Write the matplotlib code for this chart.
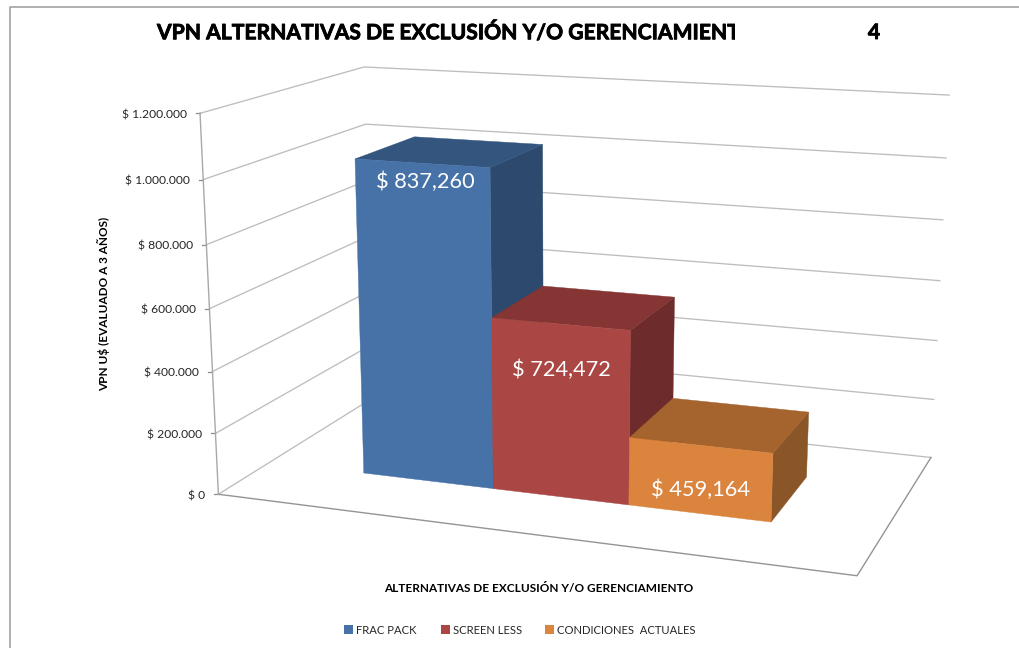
import numpy as np
import matplotlib
matplotlib.use("Agg")
import matplotlib.pyplot as plt
import matplotlib.patheffects as pe
from matplotlib.patches import Polygon, Rectangle
from matplotlib.transforms import Bbox

plt.rcParams['font.family'] = ['Lato', 'DejaVu Sans']

series_names = ["FRAC PACK", "SCREEN LESS", "CONDICIONES  ACTUALES"]
bar_values = [1026000, 557000, 218000]
bar_labels = ["$ 837,260", "$ 724,472", "$ 459,164"]
axis_ticks = [0, 200000, 400000, 600000, 800000, 1000000, 1200000]
tick_labels = ["$ 0", "$ 200.000", "$ 400.000", "$ 600.000", "$ 800.000", "$ 1.000.000", "$ 1.200.000"]

front_colors = ["#4672A8", "#AA4643", "#DB843D"]
top_colors = ["#34557E", "#853533", "#A5632E"]
side_colors = ["#2D4A6E", "#6D2B2B", "#8A5527"]

AXIS_MAX = 1200000
BAR_START = 1/6
BAR_WIDTH = 2/9
DEPTH_FRONT = 0.305
DEPTH_BACK = 0.702
LABEL_DROP = [19, 46, 45]
LABEL_SHIFT = [4, 1, 0]

# plot box corners on the page: (x, value share, depth, px, py)
box = [
    (0, 0, 0, 218, 494), (0, 1, 0, 200, 113), (0, 1, 1, 364, 67), (0, 0, 1, 373, 398),
    (1, 0, 0, 857, 576), (1, 0, 1, 931, 457), (1, 1, 1, 949, 95),
    (0, .5, 0, 210, 309), (1, .5, 1, 940, 281),
]
rows = []
for x, v, d, u, w in box:
    rows.append([x, v, d, 1, 0, 0, 0, 0, -u*x, -u*v, -u*d, -u])
    rows.append([0, 0, 0, 0, x, v, d, 1, -w*x, -w*v, -w*d, -w])
H = np.linalg.svd(np.array(rows, float))[2][-1].reshape(3, 4)


def project(x, value, d):
    p = H @ np.array([x, value / AXIS_MAX, d, 1.0])
    return p[0] / p[2], p[1] / p[2]


fig = plt.figure(figsize=(10.2, 6.48), dpi=100)
ax = fig.add_axes([0, 0, 1, 1])
ax.set_xlim(0, 1020)
ax.set_ylim(648, 0)
ax.axis("off")

# chart frame, only left and top show
ax.plot([1020, 10.5, 10.5], [6.5, 6.5, 648], color="#9A9A9A", lw=1.1)

# walls
for t, label in zip(axis_ticks, tick_labels):
    a = project(0, t, 0)
    b = project(0, t, 1)
    c = project(1, t, 1)
    ax.plot([a[0], b[0], c[0]], [a[1], b[1], c[1]], color="#BDBDBD", lw=0.95, zorder=1)
    ax.plot([a[0] - 4, a[0]], [a[1], a[1]], color="#8C8C8C", lw=0.9, zorder=1)
    ax.text(a[0] - 13.5, a[1] + 1.5, label, ha="right", va="center", fontsize=8.7, color="#262626")

# floor edges and the value axis
corners = [project(0, 0, 0), project(1, 0, 0), project(1, 0, 1)]
ax.plot([p[0] for p in corners], [p[1] for p in corners], color="#949494", lw=1.0, zorder=1)
top = project(0, AXIS_MAX, 0)
bottom = project(0, 0, 0)
ax.plot([top[0], bottom[0]], [top[1], bottom[1]], color="#A8A8A8", lw=1.0, zorder=1)

# bars, left to right so the nearer faces paint over
for i, value in enumerate(bar_values):
    x0 = BAR_START + i * BAR_WIDTH
    x1 = x0 + BAR_WIDTH
    side = [project(x1, 0, DEPTH_FRONT), project(x1, 0, DEPTH_BACK),
            project(x1, value, DEPTH_BACK), project(x1, value, DEPTH_FRONT)]
    roof = [project(x0, value, DEPTH_FRONT), project(x1, value, DEPTH_FRONT),
            project(x1, value, DEPTH_BACK), project(x0, value, DEPTH_BACK)]
    front = [project(x0, 0, DEPTH_FRONT), project(x1, 0, DEPTH_FRONT),
             project(x1, value, DEPTH_FRONT), project(x0, value, DEPTH_FRONT)]
    ax.add_patch(Polygon(side, facecolor=side_colors[i], edgecolor=side_colors[i], lw=0.3, zorder=2 + i))
    ax.add_patch(Polygon(roof, facecolor=top_colors[i], edgecolor=top_colors[i], lw=0.3, zorder=2 + i))
    ax.add_patch(Polygon(front, facecolor=front_colors[i], edgecolor=front_colors[i], lw=0.3, zorder=2 + i))
    lx, ly = project(x0 + BAR_WIDTH / 2, value, DEPTH_FRONT)
    ax.text(lx + LABEL_SHIFT[i], ly + LABEL_DROP[i], bar_labels[i], ha="center", va="center",
            fontsize=15.7, color="white", zorder=6)

# title, the last letter is cut off in the original
heavy = [pe.withStroke(linewidth=0.6, foreground="black")]
title = ax.text(157, 33, "VPN ALTERNATIVAS DE EXCLUSIÓN Y/O GERENCIAMIENTO", ha="left", va="center",
                fontsize=15.2, fontweight="bold", color="black", path_effects=heavy)
title.set_clip_box(Bbox([[0, 0], [735, 648]]))
title.set_clip_on(True)
ax.text(874, 33, "4", ha="center", va="center", fontsize=15.2, fontweight="bold", color="black",
        path_effects=heavy)

ax.text(104, 304, "VPN U$ (EVALUADO A 3 AÑOS)", rotation=90, ha="center", va="center",
        fontsize=8.5, fontweight="bold", color="black")
ax.text(539, 588, "ALTERNATIVAS DE EXCLUSIÓN Y/O GERENCIAMIENTO", ha="center", va="center",
        fontsize=8.5, fontweight="bold", color="black")

# legend
swatch_x = [344, 441, 545]
for sx, name, color in zip(swatch_x, series_names, front_colors):
    ax.add_patch(Rectangle((sx, 625), 9, 9, facecolor=color, edgecolor="none"))
    ax.text(sx + 12, 630, name, ha="left", va="center", fontsize=8.1, color="#262626")

fig.savefig("out.png", dpi=100)
